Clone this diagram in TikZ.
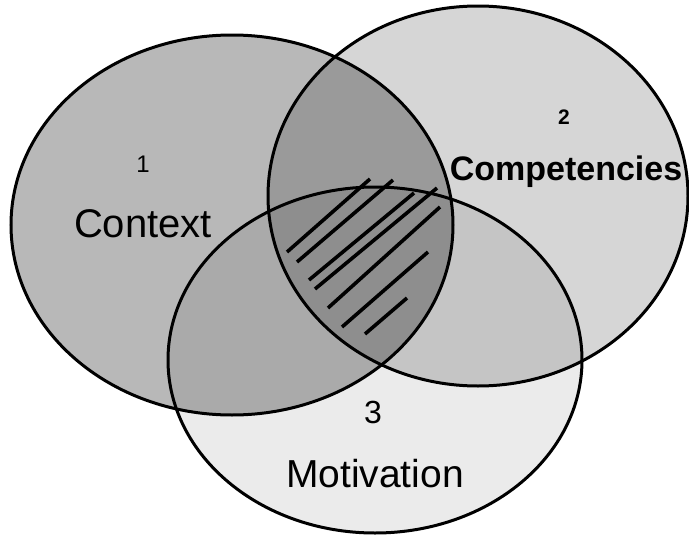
\documentclass[tikz,border=0pt]{standalone}
\usepackage{fontspec}
\setmainfont{Liberation Sans}
\usetikzlibrary{shapes.geometric}
\tikzset{
  setdisc/.style={ellipse,draw=black,line width=3pt,fill=black,inner sep=0pt},
  setname/.style={anchor=base,font=\fontsize{40}{44}\selectfont},
  setnum/.style={anchor=base,font=\fontsize{24}{26}\selectfont},
  hatch/.style={line width=3.6pt}
}
\begin{document}
\begin{tikzpicture}[x=1pt,y=-1pt]
\useasboundingbox (0,0) rectangle (689,536);
% the three sets
\node[setdisc,fill opacity=0.28,minimum width=442pt,minimum height=380pt] (context) at (232,225) {};
\node[setdisc,fill opacity=0.16,minimum width=420pt,minimum height=380pt] (comp) at (478,196) {};
\node[setdisc,fill opacity=0.08,minimum width=414pt,minimum height=346pt] (motiv) at (375,360) {};
% hatching of the common part
\foreach \xa/\ya/\xb/\yb in {287/252/370/179, 297/262/393/180, 309/280/414/193,
  315/289/437/188, 328/308/440/207, 342/327/428/252, 365/334/407/298}
  \draw[hatch] (\xa,\ya) -- (\xb,\yb);
% labels
\node[setnum] (one) at (143,172) {1};
\node[setname] (ctxlabel) at (143,237) {Context};
\node[setnum,font=\bfseries\fontsize{21}{22}\selectfont] (two) at (564,124) {2};
\node[setname,font=\bfseries\fontsize{34}{36}\selectfont] (complabel) at (566,180) {Competencies};
\node[setnum,font=\fontsize{32}{34}\selectfont] (three) at (373,423) {3};
\node[setname,font=\fontsize{39}{42}\selectfont] (motivlabel) at (375,487) {Motivation};
\end{tikzpicture}
\end{document}
